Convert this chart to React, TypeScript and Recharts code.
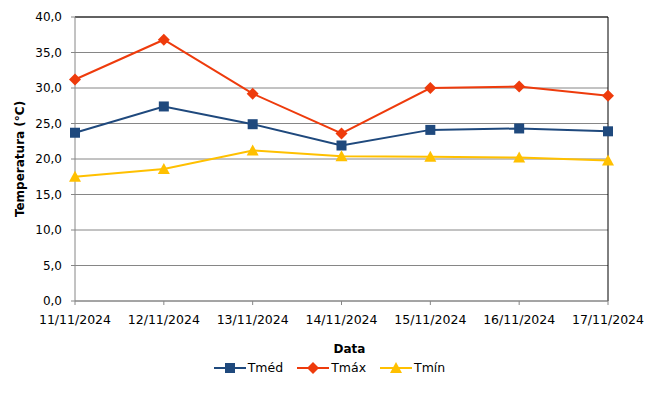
import { LineChart, Line, XAxis, YAxis, CartesianGrid, Legend, ReferenceLine } from 'recharts';

const dates = ['11/11/2024', '12/11/2024', '13/11/2024', '14/11/2024', '15/11/2024', '16/11/2024', '17/11/2024'];
const tmed = [23.7, 27.4, 24.9, 21.9, 24.1, 24.3, 23.9];
const tmax = [31.2, 36.8, 29.2, 23.6, 30.0, 30.2, 28.9];
const tmin = [17.5, 18.6, 21.2, 20.4, 20.3, 20.2, 19.8];
const yTicks = [0, 5, 10, 15, 20, 25, 30, 35, 40];

const data = dates.map((d, i) => ({ date: d, Tmed: tmed[i], Tmax: tmax[i], Tmin: tmin[i] }));

const FONT = '"DejaVu Sans", Verdana, sans-serif';
const BLUE = '#1F497D';
const RED = '#EE3B0C';
const YELLOW = '#FFC000';

const fmt = (v: number) => v.toFixed(1).replace('.', ',');

const marker = (kind: string, color: string, x: number, y: number, key?: any) => {
  if (kind === 'square') {
    return <rect key={key} x={x - 5} y={y - 5} width={10} height={10} fill={color} />;
  }
  if (kind === 'diamond') {
    return <polygon key={key} points={`${x},${y - 6} ${x + 6},${y} ${x},${y + 6} ${x - 6},${y}`} fill={color} />;
  }
  return <polygon key={key} points={`${x},${y - 6} ${x + 6},${y + 5} ${x - 6},${y + 5}`} fill={color} />;
};

const dotFor = (kind: string, color: string) => (props: any) => {
  const { cx, cy, index } = props;
  if (cx == null || cy == null) return <g key={index} />;
  return marker(kind, color, cx, cy, index);
};

const legendItems = [
  { name: 'Tméd', color: BLUE, kind: 'square' },
  { name: 'Tmáx', color: RED, kind: 'diamond' },
  { name: 'Tmín', color: YELLOW, kind: 'triangle' },
];

const renderLegend = () => (
  <div style={{ display: 'flex', justifyContent: 'center', gap: 14, fontFamily: FONT, fontSize: 12.5, color: '#000' }}>
    {legendItems.map((it) => (
      <div key={it.name} style={{ display: 'flex', alignItems: 'center' }}>
        <svg width={32} height={14}>
          <line x1={0} y1={7} x2={32} y2={7} stroke={it.color} strokeWidth={2} />
          {marker(it.kind, it.color, 16, 7)}
        </svg>
        <span style={{ marginLeft: 2 }}>{it.name}</span>
      </div>
    ))}
  </div>
);

export default function App() {
  return (
    <div style={{ margin: -8, width: 659, height: 402, background: '#fff' }}>
      <LineChart width={659} height={402} data={data} margin={{ top: 17, right: 51, left: 0, bottom: 46 }}>
        <CartesianGrid vertical={false} stroke="#868686" />
        <XAxis
          dataKey="date"
          height={55}
          interval={0}
          tickSize={4}
          tickMargin={10}
          stroke="#868686"
          tick={{ fill: '#000', fontSize: 12.5, fontFamily: FONT }}
          label={{ value: 'Data', position: 'insideBottom', offset: 3, dx: 8, fill: '#000', fontSize: 12, fontWeight: 'bold', fontFamily: FONT }}
        />
        <YAxis
          width={75}
          domain={[0, 40]}
          ticks={yTicks}
          interval={0}
          tickSize={4}
          tickMargin={9}
          stroke="#868686"
          tickFormatter={fmt}
          tick={{ fill: '#000', fontSize: 12, fontFamily: FONT }}
          label={{ value: 'Temperatura (°C)', angle: -90, position: 'insideLeft', offset: 20, fill: '#000', fontSize: 12, fontWeight: 'bold', fontFamily: FONT, style: { textAnchor: 'middle' } }}
        />
        <ReferenceLine y={40} stroke="#000" />
        <ReferenceLine x={dates[dates.length - 1]} stroke="#000" />
        <Legend layout="horizontal" verticalAlign="middle" align="center" wrapperStyle={{ top: 360, left: 0, width: 659 }} content={renderLegend} />
        <Line dataKey="Tmed" name="Tméd" stroke={BLUE} strokeWidth={2} dot={dotFor('square', BLUE)} activeDot={false} isAnimationActive={false} />
        <Line dataKey="Tmax" name="Tmáx" stroke={RED} strokeWidth={2} dot={dotFor('diamond', RED)} activeDot={false} isAnimationActive={false} />
        <Line dataKey="Tmin" name="Tmín" stroke={YELLOW} strokeWidth={2} dot={dotFor('triangle', YELLOW)} activeDot={false} isAnimationActive={false} />
      </LineChart>
    </div>
  );
}
